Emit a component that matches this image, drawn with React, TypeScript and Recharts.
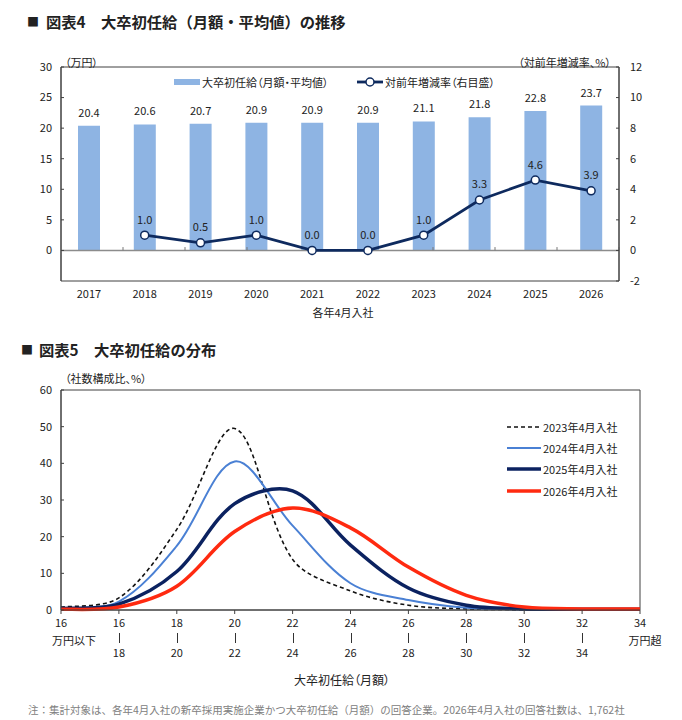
import React from "react";
import {
  Bar,
  ComposedChart,
  LabelList,
  Line,
  LineChart,
  ReferenceArea,
  ReferenceLine,
  XAxis,
  YAxis,
} from "recharts";

const FONT = "'Noto Sans CJK JP', 'Noto Sans', sans-serif";

// 図表4
const years = ["2017", "2018", "2019", "2020", "2021", "2022", "2023", "2024", "2025", "2026"];
const salary = [20.4, 20.6, 20.7, 20.9, 20.9, 20.9, 21.1, 21.8, 22.8, 23.7];
const growth = [null, 1.0, 0.5, 1.0, 0.0, 0.0, 1.0, 3.3, 4.6, 3.9];
const leftTicks = [0, 5, 10, 15, 20, 25, 30];
const rightTicks = [-2, 0, 2, 4, 6, 8, 10, 12];
const yearBoundaries = [1, 2, 3, 4, 5, 6, 7, 8, 9];

// 図表5
const binTop = ["16", "16", "18", "20", "22", "24", "26", "28", "30", "32", "34"];
const binBottom = ["万円以下", "18", "20", "22", "24", "26", "28", "30", "32", "34", "万円超"];
const dist2023 = [0.8, 3.3, 22, 49.5, 13.8, 5.2, 1.3, 0.3, 0.1, 0.1, 0.1];
const dist2024 = [0.5, 2.3, 17.5, 40.5, 23, 7.3, 2.7, 0.6, 0.2, 0.1, 0.1];
const dist2025 = [0.4, 1.6, 10.5, 29, 32.5, 17.7, 6, 1.3, 0.3, 0.2, 0.2];
const dist2026 = [0.2, 0.8, 6.5, 21.4, 27.8, 22.4, 11.7, 4, 0.8, 0.3, 0.3];
const distTicks = [0, 10, 20, 30, 40, 50, 60];

const trendData = years.map((year, i) => ({ year, salary: salary[i], growth: growth[i] }));
const distData = binTop.map((t, i) => ({
  bin: `${t}-${binBottom[i]}`,
  y2023: dist2023[i],
  y2024: dist2024[i],
  y2025: dist2025[i],
  y2026: dist2026[i],
}));

const NAVY = "#0e2a5e";
const BAR = "#8eb4e3";
const FRAME = "#404040";

const dist = (a: number[], b: number[]) => Math.hypot(b[0] - a[0], b[1] - a[1]);

// Excel-like smoothed line: bezier spline, tangents scaled by chord length
function smoothCurve(context: any) {
  let pts: number[][] = [];
  return {
    areaStart() {},
    areaEnd() {},
    lineStart() {
      pts = [];
    },
    lineEnd() {
      const n = pts.length;
      if (!n) return;
      context.moveTo(pts[0][0], pts[0][1]);
      for (let i = 0; i < n - 1; i++) {
        const p0 = pts[Math.max(i - 1, 0)];
        const p1 = pts[i];
        const p2 = pts[i + 1];
        const p3 = pts[Math.min(i + 2, n - 1)];
        const d01 = dist(p0, p1);
        const d12 = dist(p1, p2);
        const d23 = dist(p2, p3);
        const f1 = i === 0 || d01 + d12 === 0 ? 0.5 : d12 / (d01 + d12);
        const f2 = i === n - 2 || d12 + d23 === 0 ? 0.5 : d12 / (d12 + d23);
        context.bezierCurveTo(
          p1[0] + ((p2[0] - p0[0]) * f1) / 3,
          p1[1] + ((p2[1] - p0[1]) * f1) / 3,
          p2[0] - ((p3[0] - p1[0]) * f2) / 3,
          p2[1] - ((p3[1] - p1[1]) * f2) / 3,
          p2[0],
          p2[1]
        );
      }
    },
    point(x: number, y: number) {
      pts.push([+x, +y]);
    },
  };
}

function Txt({ x, y, size = 11, align = "left", bold = false, color = "#222", palt = true, children }: any) {
  const tx = align === "center" ? "-50%" : align === "right" ? "-100%" : "0";
  return (
    <div
      style={{
        position: "absolute",
        left: x,
        top: y,
        transform: `translate(${tx}, -50%)`,
        fontSize: size,
        lineHeight: 1,
        whiteSpace: "nowrap",
        fontWeight: bold ? 700 : 400,
        color,
        fontFeatureSettings: palt ? '"palt"' : "normal",
      }}
    >
      {children}
    </div>
  );
}

// range label: upper bound, separator, lower bound
function BinTick({ x, y, index }: any) {
  const last = binTop.length - 1;
  const edge = index === 0 || index === last;
  const common = { textAnchor: "middle" as const, fontSize: 11, fill: "#222" };
  const sx = Math.round(x) + 0.5;
  return (
    <g>
      <text x={x} y={y + 11} {...common}>
        {binTop[index]}
      </text>
      {edge ? (
        <text x={x + (index === 0 ? 13 : 5)} y={y + 29} {...common}>
          {binBottom[index]}
        </text>
      ) : (
        <>
          <line x1={sx} y1={y + 17} x2={sx} y2={y + 27} stroke="#333" strokeWidth={1} />
          <text x={x} y={y + 41} {...common}>
            {binBottom[index]}
          </text>
        </>
      )}
    </g>
  );
}

const oneDecimal = (v: any) => (v == null ? "" : Number(v).toFixed(1));

const legendRows = [
  { label: "2023年4月入社", color: "#111", width: 1.6, dash: "4 3" },
  { label: "2024年4月入社", color: "#4a80d4", width: 2, dash: undefined },
  { label: "2025年4月入社", color: "#0b2260", width: 3.5, dash: undefined },
  { label: "2026年4月入社", color: "#ff2a10", width: 3.5, dash: undefined },
];

export default function App() {
  return (
    <div
      style={{
        position: "absolute",
        left: 0,
        top: 0,
        width: 682,
        height: 720,
        background: "#fff",
        fontFamily: FONT,
        color: "#222",
        overflow: "hidden",
      }}
    >
      <div style={{ position: "absolute", left: 0, top: 0 }}>
        <ComposedChart width={682} height={330} data={trendData} margin={{ top: 67, right: 23, bottom: 25, left: 21 }}>
          <XAxis
            dataKey="year"
            axisLine={false}
            tickLine={false}
            tickSize={0}
            tickMargin={9}
            height={24}
            interval={0}
            tick={{ fontSize: 11, fill: "#222" }}
          />
          <XAxis xAxisId="grid" type="number" domain={[0, 10]} hide />
          <YAxis
            yAxisId="left"
            domain={[-5, 30]}
            ticks={leftTicks}
            width={40}
            tickSize={-3}
            tickMargin={12}
            axisLine={{ stroke: FRAME }}
            tickLine={{ stroke: FRAME }}
            tick={{ fontSize: 11, fill: "#222" }}
          />
          <YAxis
            yAxisId="right"
            orientation="right"
            domain={[-2, 12]}
            ticks={rightTicks}
            width={40}
            tickSize={-3}
            tickMargin={14}
            axisLine={{ stroke: FRAME }}
            tickLine={{ stroke: FRAME }}
            tick={{ fontSize: 11, fill: "#222" }}
          />
          <ReferenceArea yAxisId="left" y1={-5} y2={30} fill="none" stroke={FRAME} strokeWidth={1} />
          <Bar yAxisId="left" dataKey="salary" fill={BAR} barSize={22} isAnimationActive={false}>
            <LabelList dataKey="salary" position="top" offset={9} formatter={oneDecimal} style={{ fontSize: 11, fill: "#222" }} />
          </Bar>
          <ReferenceLine yAxisId="left" y={0} stroke="#8c8c8c" strokeWidth={1.5} />
          {yearBoundaries.map((b) => (
            <ReferenceLine
              key={b}
              xAxisId="grid"
              yAxisId="left"
              segment={[
                { x: b, y: 0 },
                { x: b, y: 0.55 },
              ]}
              stroke="#777"
            />
          ))}
          <Line
            yAxisId="right"
            dataKey="growth"
            type="linear"
            stroke={NAVY}
            strokeWidth={2.8}
            dot={{ r: 4, fill: "#fff", stroke: NAVY, strokeWidth: 1.5 }}
            isAnimationActive={false}
          >
            <LabelList dataKey="growth" position="top" offset={11.5} formatter={oneDecimal} style={{ fontSize: 11, fill: "#222" }} />
          </Line>
        </ComposedChart>
      </div>

      <div style={{ position: "absolute", left: 0, top: 340 }}>
        <LineChart width={682} height={360} data={distData} margin={{ top: 50, right: 42, bottom: 30, left: 21 }}>
          <XAxis
            dataKey="bin"
            scale="point"
            padding={{ left: 0, right: 0 }}
            interval={0}
            height={60}
            tickSize={4}
            tickMargin={2}
            axisLine={{ stroke: FRAME }}
            tickLine={{ stroke: FRAME }}
            tick={<BinTick />}
          />
          <YAxis
            domain={[0, 60]}
            ticks={distTicks}
            width={40}
            tickSize={-3}
            tickMargin={12}
            axisLine={{ stroke: FRAME }}
            tickLine={{ stroke: FRAME }}
            tick={{ fontSize: 11, fill: "#222" }}
          />
          <ReferenceArea y1={0} y2={60} fill="none" stroke={FRAME} strokeWidth={1} />
          <Line dataKey="y2023" type={smoothCurve as any} stroke="#111" strokeWidth={1.6} strokeDasharray="4 3" dot={false} activeDot={false} isAnimationActive={false} />
          <Line dataKey="y2024" type={smoothCurve as any} stroke="#4a80d4" strokeWidth={2} dot={false} activeDot={false} isAnimationActive={false} />
          <Line dataKey="y2025" type={smoothCurve as any} stroke="#0b2260" strokeWidth={3.5} dot={false} activeDot={false} isAnimationActive={false} />
          <Line dataKey="y2026" type={smoothCurve as any} stroke="#ff2a10" strokeWidth={3.5} dot={false} activeDot={false} isAnimationActive={false} />
        </LineChart>
      </div>

      {/* titles and notes */}
      <Txt x={27} y={22} size={12}>■</Txt>
      <Txt x={46} y={22} size={15.3} bold palt={false}>図表4　大卒初任給（月額・平均値）の推移</Txt>
      <Txt x={65} y={61.5}>（万円）</Txt>
      <Txt x={611} y={61.5} align="right">（対前年増減率、%）</Txt>
      <Txt x={343} y={311.5} align="center">各年4月入社</Txt>

      {/* legend 図表4 */}
      <div style={{ position: "absolute", left: 174, top: 79, width: 26, height: 6, background: BAR }} />
      <Txt x={202} y={81.7}>大卒初任給（月額・平均値）</Txt>
      <svg style={{ position: "absolute", left: 355, top: 75 }} width={30} height={14}>
        <line x1={2} y1={7} x2={28} y2={7} stroke={NAVY} strokeWidth={2.8} />
        <circle cx={15} cy={7} r={4} fill="#fff" stroke={NAVY} strokeWidth={1.5} />
      </svg>
      <Txt x={385} y={81.7}>対前年増減率（右目盛）</Txt>

      <Txt x={21} y={350} size={12}>■</Txt>
      <Txt x={39} y={350} size={15.3} bold palt={false}>図表5　大卒初任給の分布</Txt>
      <Txt x={65} y={378}>（社数構成比、%）</Txt>

      {/* legend 図表5 */}
      {legendRows.map((r, i) => {
        const cy = [426.7, 447.7, 469, 490.7][i];
        return (
          <React.Fragment key={r.label}>
            <svg style={{ position: "absolute", left: 505, top: cy - 5 }} width={38} height={10}>
              <line x1={2} y1={5} x2={36} y2={5} stroke={r.color} strokeWidth={r.width} strokeDasharray={r.dash} />
            </svg>
            <Txt x={543} y={cy}>{r.label}</Txt>
          </React.Fragment>
        );
      })}

      <Txt x={342} y={680} size={12} align="center">大卒初任給（月額）</Txt>
      <Txt x={28} y={710} size={10.5} color="#808080" palt={false}>
        注：集計対象は、各年4月入社の新卒採用実施企業かつ大卒初任給（月額）の回答企業。2026年4月入社の回答社数は、1,762社
      </Txt>
    </div>
  );
}
